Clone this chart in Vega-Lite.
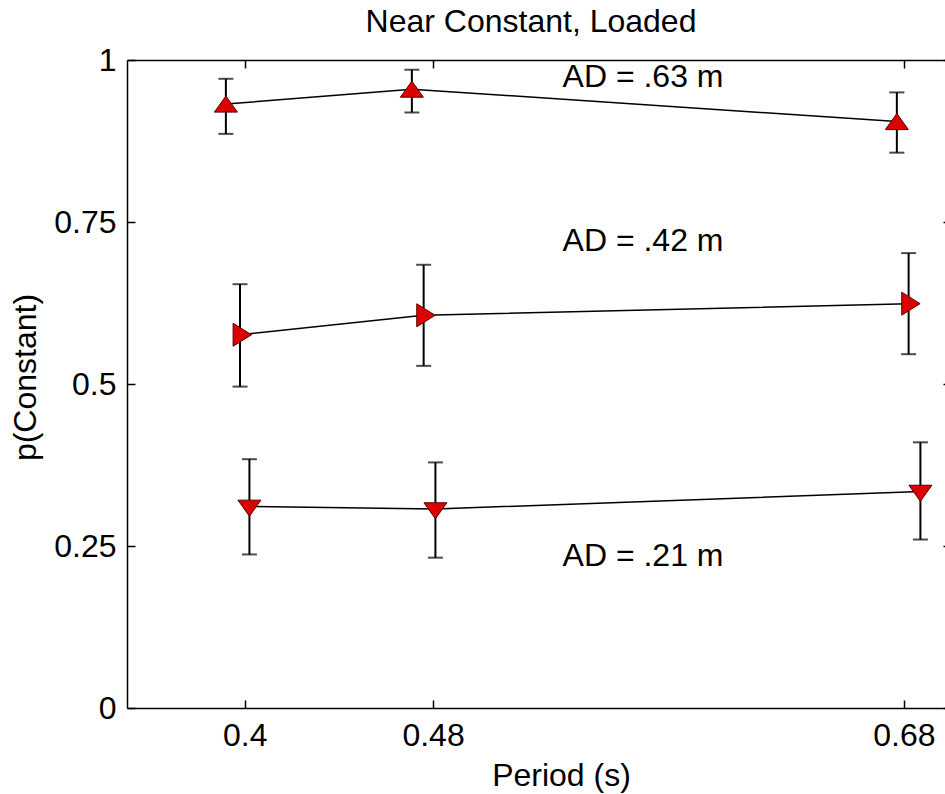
{
  "$schema": "https://vega.github.io/schema/vega-lite/v6.json",
  "width": 824,
  "height": 648,
  "autosize": {"type": "none"},
  "padding": {"left": 127, "top": 60, "right": -6, "bottom": 86},
  "background": "white",
  "title": {
    "text": "Near Constant, Loaded",
    "font": "Liberation Sans",
    "fontSize": 32,
    "fontWeight": "normal",
    "color": "black",
    "anchor": "middle",
    "offset": 5,
    "dx": -8
  },
  "config": {
    "view": {"stroke": null},
    "font": "Liberation Sans",
    "axis": {
      "grid": false,
      "domainColor": "black",
      "domainWidth": 1.5,
      "tickColor": "black",
      "tickWidth": 1.5,
      "tickSize": -8,
      "labelFont": "Liberation Sans",
      "labelFontSize": 32,
      "labelColor": "black",
      "titleFont": "Liberation Sans",
      "titleFontSize": 32,
      "titleFontWeight": "normal",
      "titleColor": "black"
    }
  },
  "data": {
    "values": [
      {"series": "AD = .63 m", "marker": "up", "period": 0.392, "p": 0.932, "lo": 0.886, "hi": 0.971},
      {"series": "AD = .63 m", "marker": "up", "period": 0.471, "p": 0.955, "lo": 0.919, "hi": 0.985},
      {"series": "AD = .63 m", "marker": "up", "period": 0.677, "p": 0.905, "lo": 0.857, "hi": 0.950},
      {"series": "AD = .42 m", "marker": "right", "period": 0.398, "p": 0.576, "lo": 0.496, "hi": 0.654},
      {"series": "AD = .42 m", "marker": "right", "period": 0.476, "p": 0.606, "lo": 0.528, "hi": 0.684},
      {"series": "AD = .42 m", "marker": "right", "period": 0.682, "p": 0.624, "lo": 0.546, "hi": 0.702},
      {"series": "AD = .21 m", "marker": "down", "period": 0.402, "p": 0.311, "lo": 0.237, "hi": 0.384},
      {"series": "AD = .21 m", "marker": "down", "period": 0.481, "p": 0.307, "lo": 0.232, "hi": 0.379},
      {"series": "AD = .21 m", "marker": "down", "period": 0.687, "p": 0.334, "lo": 0.260, "hi": 0.410}
    ]
  },
  "layer": [
    {
      "mark": {"type": "line", "color": "black", "strokeWidth": 1.5},
      "encoding": {
        "x": {
          "field": "period", "type": "quantitative",
          "scale": {"domain": [0.35, 0.7], "nice": false, "zero": false},
          "axis": {
            "orient": "bottom", "values": [0.4, 0.48, 0.68], "labelExpr": "'' + datum.value",
            "labelBaseline": "alphabetic", "labelPadding": 45,
            "title": "Period (s)", "titleX": 434, "titleY": 77,
            "titleAlign": "center", "titleBaseline": "alphabetic"
          }
        },
        "y": {
          "field": "p", "type": "quantitative",
          "scale": {"domain": [0, 1], "nice": false},
          "axis": {
            "orient": "left", "values": [0, 0.25, 0.5, 0.75, 1], "labelExpr": "'' + datum.value",
            "labelPadding": 19, "labelBaseline": "middle",
            "title": "p(Constant)", "titleAngle": -90, "titleX": -92, "titleY": 317,
            "titleAlign": "center", "titleBaseline": "alphabetic"
          }
        },
        "detail": {"field": "series"}
      }
    },
    {
      "mark": {"type": "rule", "color": "black", "strokeWidth": 2},
      "encoding": {
        "x": {
          "field": "period", "type": "quantitative",
          "axis": {"orient": "top", "values": [0.4, 0.48, 0.68], "labels": false, "title": null}
        },
        "y": {
          "field": "lo", "type": "quantitative",
          "axis": {"orient": "right", "values": [0, 0.25, 0.5, 0.75, 1], "labels": false, "title": null}
        },
        "y2": {"field": "hi"}
      }
    },
    {
      "mark": {"type": "tick", "orient": "horizontal", "color": "black", "size": 15, "thickness": 2},
      "encoding": {
        "x": {"field": "period", "type": "quantitative", "axis": null},
        "y": {"field": "hi", "type": "quantitative", "axis": null}
      }
    },
    {
      "mark": {"type": "tick", "orient": "horizontal", "color": "black", "size": 15, "thickness": 2},
      "encoding": {
        "x": {"field": "period", "type": "quantitative", "axis": null},
        "y": {"field": "lo", "type": "quantitative", "axis": null}
      }
    },
    {
      "mark": {"type": "point", "filled": true, "size": 529, "fill": "#dd0000", "stroke": "#5a0000", "strokeWidth": 1, "opacity": 1},
      "encoding": {
        "x": {"field": "period", "type": "quantitative", "axis": null},
        "y": {"field": "p", "type": "quantitative", "axis": null},
        "shape": {
          "field": "marker", "type": "nominal",
          "scale": {
            "domain": ["up", "right", "down"],
            "range": ["M-1,0.7L1,0.7L0,-0.7Z", "M-0.6,-1L1,0L-0.6,1Z", "M-1,-0.55L1,-0.55L0,0.85Z"]
          },
          "legend": null
        }
      }
    },
    {
      "data": {
        "values": [
          {"label": "AD = .63 m", "period": 0.535, "p": 0.959},
          {"label": "AD = .42 m", "period": 0.535, "p": 0.705},
          {"label": "AD = .21 m", "period": 0.535, "p": 0.219}
        ]
      },
      "mark": {"type": "text", "align": "left", "baseline": "alphabetic", "fontSize": 32, "font": "Liberation Sans", "color": "black"},
      "encoding": {
        "x": {"field": "period", "type": "quantitative", "axis": null},
        "y": {"field": "p", "type": "quantitative", "axis": null},
        "text": {"field": "label"}
      }
    }
  ]
}
